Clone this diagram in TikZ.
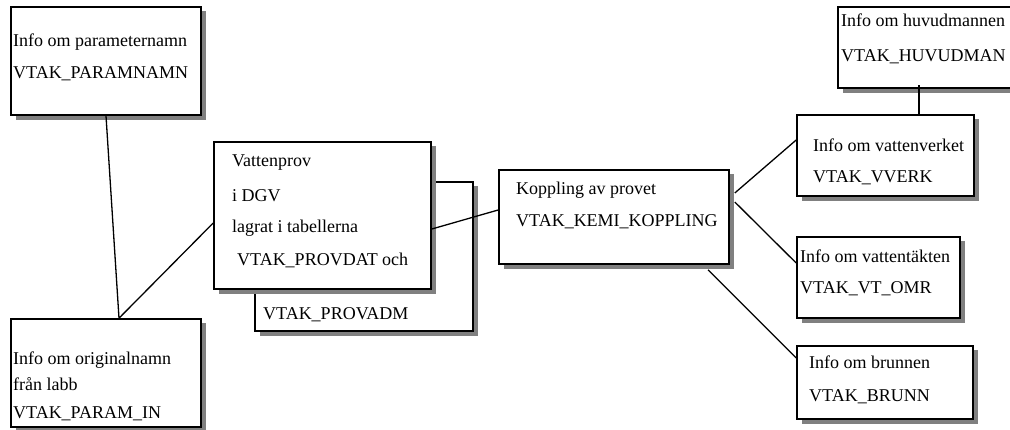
\documentclass[tikz,border=0pt]{standalone}
\usepackage{fontspec}
\setmainfont{Liberation Serif}
\definecolor{shadowgray}{RGB}{128,128,128}

\begin{document}
\begin{tikzpicture}[x=1pt,y=1pt,
    box/.style={draw, line width=1.6pt, fill=white, inner sep=0pt},
    lbl/.style={anchor=base west, inner sep=0pt, font=\fontsize{18}{20}\selectfont},
    link/.style={line width=1.3pt}]
      \useasboundingbox (0,0) rectangle (1010,-430);

      % name / centre x / centre y / width / height
      \foreach \n/\x/\y/\w/\h in {par/106/61/190/108, orig/106/373/190/108,
          adm/364/256.5/218/149, vp/322.5/215.5/217/147, kop/614/217/230/94,
          huvud/926/47.5/176/81, vverk/885.5/155.5/177/81,
          vtomr/878.5/277.5/163/81, brunn/885/382.5/176/73}{
        \fill[shadowgray] (\x-\w/2+4.5, -\y+\h/2-4.5) rectangle (\x+\w/2+5.3, -\y-\h/2-5.3);
        \node[box, minimum width=\w pt, minimum height=\h pt] (\n) at (\x,-\y) {};
      }

      \node[lbl] (par-a) at (13,-47) {Info om parameternamn};
      \node[lbl] (par-b) at (13,-79) {VTAK\_PARAMNAMN};
      \node[lbl] (orig-a) at (13,-365) {Info om originalnamn};
      \node[lbl] (orig-b) at (13,-391) {från labb};
      \node[lbl] (orig-c) at (13,-418) {VTAK\_PARAM\_IN};
      \node[lbl] (vp-a) at (232,-167) {Vattenprov};
      \node[lbl] (vp-b) at (232,-202) {i DGV};
      \node[lbl] (vp-c) at (232,-233) {lagrat i tabellerna};
      \node[lbl] (vp-d) at (237,-266) {VTAK\_PROVDAT och};
      \node[lbl] (adm-a) at (263,-320) {VTAK\_PROVADM};
      \node[lbl] (kop-a) at (516,-195) {Koppling av provet};
      \node[lbl] (kop-b) at (516,-227) {VTAK\_KEMI\_KOPPLING};
      \node[lbl] (huvud-a) at (841,-27) {Info om huvudmannen};
      \node[lbl] (huvud-b) at (841,-62) {VTAK\_HUVUDMAN};
      \node[lbl] (vverk-a) at (813,-152) {Info om vattenverket};
      \node[lbl] (vverk-b) at (813,-183) {VTAK\_VVERK};
      \node[lbl] (vtomr-a) at (800,-263) {Info om vattentäkten};
      \node[lbl] (vtomr-b) at (800,-294) {VTAK\_VT\_OMR};
      \node[lbl] (brunn-a) at (809,-369) {Info om brunnen};
      \node[lbl] (brunn-b) at (809,-402) {VTAK\_BRUNN};

      \draw[link] (par.south) -- ([xshift=13pt]orig.north) -- ([yshift=-7.5pt]vp.west);
      \draw[link] ([yshift=-13.5pt]vp.east) -- ([yshift=7pt]kop.west);
      \draw[link] ([xshift=5pt,yshift=24pt]kop.east) -- ([yshift=15.5pt]vverk.west);
      \draw[link] ([xshift=5pt,yshift=15pt]kop.east) -- ([yshift=14.5pt]vtomr.west);
      \draw[link] ([xshift=94pt,yshift=-5pt]kop.south) -- ([yshift=24.5pt]brunn.west);
      \draw[link] ([xshift=33.5pt]vverk.north) -- ([xshift=33.5pt,yshift=4pt]vverk.north |- huvud.south);
    \end{tikzpicture}
\end{document}
